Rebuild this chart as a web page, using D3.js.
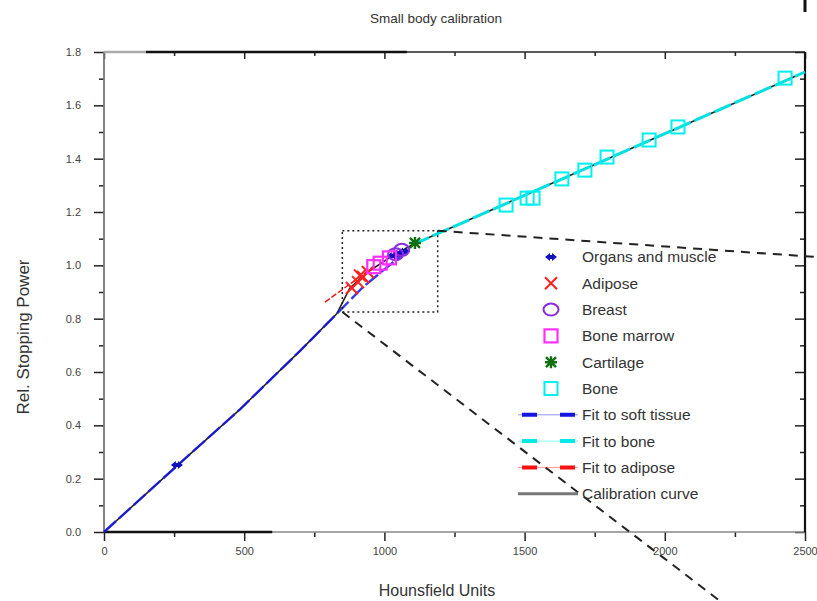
<!DOCTYPE html>
<html>
<head>
<meta charset="utf-8">
<script src="https://cdn.jsdelivr.net/npm/d3@7/dist/d3.min.js"></script>
<style>
  body { margin: 0; background: #fff; }
  text { font-family: "Liberation Sans", Arial, sans-serif; }
</style>
</head>
<body>
<div id="chart"></div>
<script>
/* global d3 */

// ---- data ----
var organs = [[260, 0.251], [1030, 1.035], [1050, 1.045], [1070, 1.052]];
var adipose = [[884, 0.915], [906, 0.937], [913, 0.962], [924, 0.956], [941, 0.975]];
var breast = [[1040, 1.042], [1062, 1.058]];
var boneMarrow = [[962, 0.995], [985, 1.008], [1018, 1.028]];
var cartilage = [[1109, 1.084]];
var bone = [[1434, 1.226], [1509, 1.252], [1530, 1.252], [1633, 1.324], [1715, 1.357],
            [1794, 1.406], [1944, 1.470], [2047, 1.519], [2429, 1.702]];

var fitSoft = [[0, 0], [260, 0.248], [485, 0.46], [700, 0.68], [830, 0.818], [924, 0.919], [1084, 1.057]];
var fitBone = [[1100, 1.077], [2500, 1.725]];
var fitAdipose = [[788, 0.862], [956, 0.99]];
var calibration = [[0, 0], [260, 0.248], [485, 0.46], [700, 0.68], [830, 0.818], [877, 0.915],
                   [941, 0.975], [1020, 1.03], [1100, 1.077], [2500, 1.725]];

var zoomBox = [[850, 0.825], [1190, 1.13]];
var connectors = [[[1190, 1.13], [2543, 1.031]], [[850, 0.825], [2197, -0.259]]];

var xMajor = [0, 500, 1000, 1500, 2000, 2500];
var xMinor = [250, 750, 1250, 1750, 2250];
var yMajor = [0, 0.2, 0.4, 0.6, 0.8, 1.0, 1.2, 1.4, 1.6, 1.8];
var yMinor = [0.1, 0.3, 0.5, 0.7, 0.9, 1.1, 1.3, 1.5, 1.7];

var legendItems = [
  {name: "Organs and muscle", kind: "organ"},
  {name: "Adipose", kind: "adipose"},
  {name: "Breast", kind: "breast"},
  {name: "Bone marrow", kind: "marrow"},
  {name: "Cartilage", kind: "cartilage"},
  {name: "Bone", kind: "bone"},
  {name: "Fit to soft tissue", kind: "line", color: "#1515e0"},
  {name: "Fit to bone", kind: "line", color: "#00e8e8"},
  {name: "Fit to adipose", kind: "line", color: "#ff1010"},
  {name: "Calibration curve", kind: "calib"}
];

var width = 817, height = 601;

var x = d3.scaleLinear().domain([0, 2500]).range([104, 805]);
var y = d3.scaleLinear().domain([0, 1.8]).range([532, 52]);

var svg = d3.select("#chart").append("svg")
    .attr("width", width)
    .attr("height", height);

// title and axis labels
svg.append("text")
    .attr("x", 436).attr("y", 23)
    .attr("text-anchor", "middle")
    .attr("font-size", 13.5).attr("fill", "#333")
    .text("Small body calibration");

svg.append("text")
    .attr("x", 437).attr("y", 596)
    .attr("text-anchor", "middle")
    .attr("font-size", 16).attr("fill", "#333")
    .text("Hounsfield Units");

svg.append("text")
    .attr("transform", "translate(29,337) rotate(-90)")
    .attr("text-anchor", "middle")
    .attr("font-size", 17).attr("fill", "#333")
    .text("Rel. Stopping Power");

// axes
function styleAxis(g) {
    g.select(".domain").remove();
    g.selectAll("line").attr("stroke", "#222").attr("stroke-width", 1.5);
    g.selectAll("text").attr("font-size", 11).attr("fill", "#444");
}

svg.append("g").attr("transform", "translate(104,0)")
    .call(d3.axisLeft(y).tickValues(yMajor).tickSize(10).tickPadding(13).tickFormat(d3.format(".1f")))
    .call(styleAxis);
svg.append("g").attr("transform", "translate(104,0)")
    .call(d3.axisLeft(y).tickValues(yMinor).tickSize(5).tickFormat(""))
    .call(styleAxis);

svg.append("g").attr("transform", "translate(0,532)")
    .call(d3.axisBottom(x).tickValues(xMajor).tickSize(9).tickPadding(6).tickFormat(d3.format("d")))
    .call(styleAxis);
svg.append("g").attr("transform", "translate(0,532)")
    .call(d3.axisBottom(x).tickValues(xMinor).tickSize(5).tickFormat(""))
    .call(styleAxis);

svg.append("g").attr("transform", "translate(0,52)")
    .call(d3.axisTop(x).tickValues(xMajor).tickSize(-7).tickFormat(""))
    .call(styleAxis);
svg.append("g").attr("transform", "translate(0,52)")
    .call(d3.axisTop(x).tickValues(xMinor).tickSize(-4).tickFormat(""))
    .call(styleAxis);

svg.append("g").attr("transform", "translate(805,0)")
    .call(d3.axisRight(y).tickValues(yMajor).tickSize(-10).tickFormat(""))
    .call(styleAxis);
svg.append("g").attr("transform", "translate(805,0)")
    .call(d3.axisRight(y).tickValues(yMinor).tickSize(-5).tickFormat(""))
    .call(styleAxis);

// frame
var frame = svg.append("g");
frame.append("line").attr("x1", 104).attr("x2", 104).attr("y1", 52).attr("y2", 532)
    .attr("stroke", "#777").attr("stroke-width", 1.8);
frame.append("line").attr("x1", 104).attr("x2", 805).attr("y1", 532).attr("y2", 532)
    .attr("stroke", "#888").attr("stroke-width", 1.5);
frame.append("line").attr("x1", x(0)).attr("x2", x(600)).attr("y1", 532).attr("y2", 532)
    .attr("stroke", "#111").attr("stroke-width", 2.5);
frame.append("line").attr("x1", 104).attr("x2", 805).attr("y1", 52).attr("y2", 52)
    .attr("stroke", "#222").attr("stroke-width", 1.5);
frame.append("line").attr("x1", 104).attr("x2", x(150)).attr("y1", 52).attr("y2", 52)
    .attr("stroke", "#aaa").attr("stroke-width", 2.5);
frame.append("line").attr("x1", x(150)).attr("x2", x(1080)).attr("y1", 52).attr("y2", 52)
    .attr("stroke", "#111").attr("stroke-width", 2.5);
frame.append("line").attr("x1", 805).attr("x2", 805).attr("y1", 52).attr("y2", 532)
    .attr("stroke", "#111").attr("stroke-width", 2.2);
// stray mark at the top-right corner
frame.append("line").attr("x1", 805).attr("x2", 805).attr("y1", 0).attr("y2", 12)
    .attr("stroke", "#111").attr("stroke-width", 3);

// lines
var line = d3.line().x(d => x(d[0])).y(d => y(d[1]));

svg.append("path").datum(calibration)
    .attr("d", line).attr("fill", "none")
    .attr("stroke", "#222").attr("stroke-width", 1.6);

svg.append("path").datum(fitSoft)
    .attr("d", line).attr("fill", "none")
    .attr("stroke", "#1515e0").attr("stroke-width", 2.4)
    .attr("stroke-dasharray", "16,4").attr("stroke-opacity", 0.85);

svg.append("path").datum(fitBone)
    .attr("d", line).attr("fill", "none")
    .attr("stroke", "#00e0e0").attr("stroke-width", 3)
    .attr("stroke-dasharray", "18,4");

svg.append("path").datum(fitAdipose)
    .attr("d", line).attr("fill", "none")
    .attr("stroke", "#ff1010").attr("stroke-width", 1.4)
    .attr("stroke-dasharray", "6,2");

// zoom box and connectors
svg.append("rect")
    .attr("x", x(zoomBox[0][0])).attr("y", y(zoomBox[1][1]))
    .attr("width", x(zoomBox[1][0]) - x(zoomBox[0][0]))
    .attr("height", y(zoomBox[0][1]) - y(zoomBox[1][1]))
    .attr("fill", "none").attr("stroke", "#222")
    .attr("stroke-width", 1.5).attr("stroke-dasharray", "2,3");

svg.selectAll(".connector")
    .data(connectors)
    .enter().append("path")
    .attr("class", "connector")
    .attr("d", line).attr("fill", "none")
    .attr("stroke", "#222").attr("stroke-width", 2)
    .attr("stroke-dasharray", "9,7");

// markers
function drawMarker(g, kind) {
    if (kind === "organ") {
        g.append("path").attr("d", "M-6,0 L-1,-4 L-1,-2 L1,-2 L1,-4 L6,0 L1,4 L1,2 L-1,2 L-1,4 Z")
            .attr("fill", "#1010c0");
    } else if (kind === "adipose") {
        g.append("path").attr("d", "M-6,-6 L6,6 M-6,6 L6,-6")
            .attr("stroke", "#ff2020").attr("stroke-width", 2).attr("fill", "none");
    } else if (kind === "breast") {
        g.append("ellipse").attr("rx", 7.5).attr("ry", 6)
            .attr("fill", "none").attr("stroke", "#8a2be2").attr("stroke-width", 2);
    } else if (kind === "marrow") {
        g.append("rect").attr("x", -6.5).attr("y", -6.5).attr("width", 13).attr("height", 13)
            .attr("fill", "none").attr("stroke", "#ff30ff").attr("stroke-width", 2.2);
    } else if (kind === "cartilage") {
        g.append("path").attr("d", "M-5,-5 L5,5 M-5,5 L5,-5 M0,-6 L0,6 M-6,0 L6,0")
            .attr("stroke", "#107010").attr("stroke-width", 2.4).attr("fill", "none");
    } else if (kind === "bone") {
        g.append("rect").attr("x", -6.5).attr("y", -6.5).attr("width", 13).attr("height", 13)
            .attr("fill", "none").attr("stroke", "#00f0f0").attr("stroke-width", 2);
    }
}

var series = [
    {data: organs, kind: "organ"},
    {data: adipose, kind: "adipose"},
    {data: breast, kind: "breast"},
    {data: boneMarrow, kind: "marrow"},
    {data: cartilage, kind: "cartilage"},
    {data: bone, kind: "bone"}
];

series.forEach(function (s) {
    svg.append("g").selectAll("g")
        .data(s.data)
        .enter().append("g")
        .attr("transform", d => `translate(${x(d[0])},${y(d[1])})`)
        .each(function () { drawMarker(d3.select(this), s.kind); });
});

// legend
var legend = svg.append("g").attr("class", "legend");
legendItems.forEach(function (item, i) {
    var ly = 257 + i * 26.3;
    var g = legend.append("g").attr("transform", `translate(0,${ly})`);
    if (item.kind === "line") {
        g.append("line").attr("x1", 518).attr("x2", 578)
            .attr("stroke", item.color).attr("stroke-width", 1).attr("stroke-opacity", 0.45);
        g.append("line").attr("x1", 522).attr("x2", 576)
            .attr("stroke", item.color).attr("stroke-width", 4)
            .attr("stroke-dasharray", "15,23");
    } else if (item.kind === "calib") {
        g.append("line").attr("x1", 518).attr("x2", 578)
            .attr("stroke", "#777").attr("stroke-width", 3);
    } else {
        var m = g.append("g").attr("transform", "translate(551,0)");
        drawMarker(m, item.kind);
    }
    g.append("text")
        .attr("x", 582).attr("y", 0).attr("dy", "0.35em")
        .attr("font-size", 15.5).attr("fill", "#333")
        .text(item.name);
});
</script>
</body>
</html>
